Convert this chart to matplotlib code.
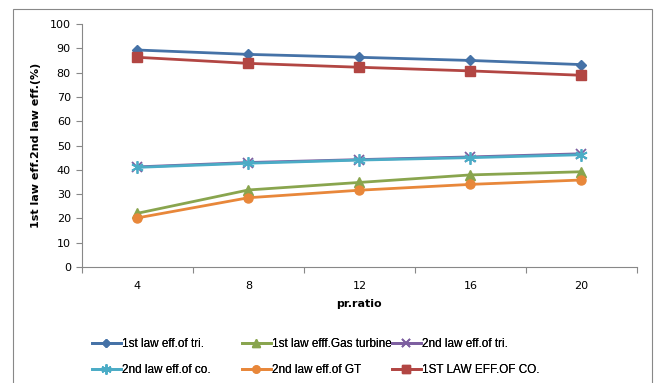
import numpy as np
import matplotlib
matplotlib.use("Agg")
import matplotlib.pyplot as plt
from matplotlib.patches import Rectangle

# data
pr_ratio = ["4", "8", "12", "16", "20"]
first_law_tri = [89.3, 87.5, 86.3, 85.0, 83.3]
first_law_gt = [22.1, 31.7, 34.8, 37.9, 39.2]
second_law_tri = [41.2, 43.0, 44.2, 45.3, 46.6]
second_law_co = [41.0, 42.7, 44.0, 45.0, 46.2]
second_law_gt = [20.2, 28.5, 31.6, 34.0, 35.8]
first_law_co = [86.3, 83.8, 82.2, 80.7, 78.9]

series = [
    ("1st law eff.of tri.", first_law_tri, "#4572A7", "D", 5),
    ("1st law efff.Gas turbine", first_law_gt, "#89A54E", "^", 6.5),
    ("2nd law eff.of tri.", second_law_tri, "#7D5FA0", "x", 7),
    ("2nd law eff.of co.", second_law_co, "#4BACC6", (6, 2, 0), 9),
    ("2nd law eff.of GT", second_law_gt, "#E8873A", "o", 6.5),
    ("1ST LAW EFF.OF CO.", first_law_co, "#B24643", "s", 6.5),
]

plt.rcParams["font.family"] = ["DejaVu Sans"]

fig = plt.figure(figsize=(6.55, 3.83), dpi=100)
ax = fig.add_axes([0.125, 0.3029, 0.8475, 0.6344])

x = np.arange(len(pr_ratio))
handles = []
for label, vals, color, marker, ms in series:
    h, = ax.plot(x, vals, color=color, lw=2.0, marker=marker, ms=ms,
                 markeredgewidth=1.0 if marker not in ("x", (6, 2, 0)) else 1.3,
                 markeredgecolor=color, label=label)
    handles.append(h)

ax.set_xlim(-0.5, 4.5)
ax.set_ylim(0, 100)
ax.set_yticks(np.arange(0, 101, 10))
ax.set_xticks(np.arange(-0.5, 4.6, 1))
ax.set_xticklabels([])
ax.set_xticks(x, minor=True)
ax.set_xticklabels(pr_ratio, minor=True)
ax.tick_params(axis="x", which="minor", length=0, pad=10, labelsize=8)
ax.tick_params(axis="x", which="major", length=4, color="#888888")
ax.tick_params(axis="y", length=4, color="#888888", labelsize=8, pad=4)
for s in ("top", "right"):
    ax.spines[s].set_visible(False)
for s in ("left", "bottom"):
    ax.spines[s].set_color("#888888")

ax.set_xlabel("pr.ratio", fontsize=8, fontweight="bold", labelpad=6)
ax.set_ylabel("1st law eff.2nd law eff.(%)", fontsize=8, fontweight="bold", labelpad=6)

# legend: three columns filled row by row, placed at the reference column starts
col_x = [92, 242, 392]
for c, px in enumerate(col_x):
    idx = [c, c + 3]
    leg = fig.legend([handles[i] for i in idx], [series[i][0] for i in idx],
                     loc="upper left", frameon=False, fontsize=8,
                     prop={"family": "Liberation Sans", "size": 8.5},
                     handlelength=2.4, handletextpad=0.1, labelspacing=1.2,
                     borderaxespad=0, markerscale=0.8,
                     bbox_to_anchor=((px - 4.5) / 655, 0.13),
                     bbox_transform=fig.transFigure)
    fig.add_artist(leg)

fig.patches.append(Rectangle((13 / 655, -0.1), (652 - 13) / 655, 1.1 - 9 / 383,
                             transform=fig.transFigure, fill=False,
                             edgecolor="#888888", lw=0.8))

fig.savefig("out.png", dpi=100)
